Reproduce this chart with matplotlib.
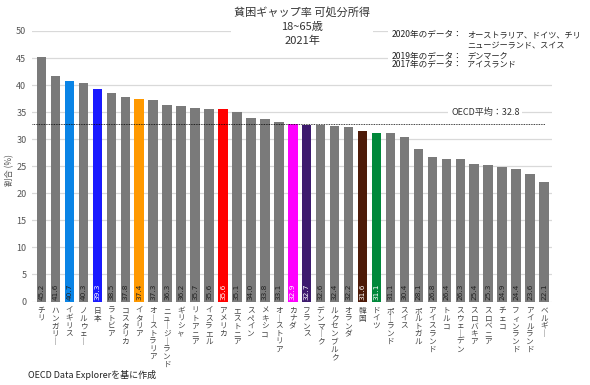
import matplotlib
matplotlib.use("Agg")
import matplotlib.pyplot as plt
from matplotlib.patches import Rectangle

plt.rcParams['font.family'] = ['Noto Sans CJK JP', 'DejaVu Sans']

countries = ["チリ", "ハンガリー", "イギリス", "ノルウェー", "日本", "ラトビア", "コスタリカ",
             "イタリア", "オーストラリア", "ニュージーランド", "ギリシャ", "リトアニア", "イスラエル",
             "アメリカ", "エストニア", "スペイン", "メキシコ", "オーストリア", "カナダ", "フランス",
             "デンマーク", "ルクセンブルク", "オランダ", "韓国", "ドイツ", "ポーランド", "スイス",
             "ポルトガル", "アイスランド", "トルコ", "スウェーデン", "スロバキア", "スロベニア",
             "チェコ", "フィンランド", "アイルランド", "ベルギー"]
values = [45.2, 41.6, 40.7, 40.3, 39.3, 38.5, 37.8, 37.4, 37.3, 36.3, 36.2, 35.7, 35.6,
          35.6, 35.1, 34.0, 33.8, 33.1, 32.9, 32.7, 32.6, 32.4, 32.2, 31.6, 31.1, 31.1, 30.4,
          28.1, 26.8, 26.4, 26.3, 25.4, 25.3, 24.9, 24.4, 23.6, 22.1]
highlight_colors = {"イギリス": "#0a84e6", "日本": "#1a1aff", "イタリア": "#ff9900",
                    "アメリカ": "#ff0000", "カナダ": "#ff00ff", "フランス": "#3d1a6e",
                    "韓国": "#4d1a08", "ドイツ": "#00883a"}
light_label = {"日本", "アメリカ", "カナダ", "フランス", "韓国", "ドイツ"}
oecd_avg = 32.8
yticks = [0, 5, 10, 15, 20, 25, 30, 35, 40, 45, 50]
title = "貧困ギャップ率 可処分所得\n18~65歳\n2021年"
note_left = ["2020年のデータ：", "", "2019年のデータ：", "2017年のデータ："]
note_right = ["オーストラリア、ドイツ、チリ", "ニュージーランド、スイス", "デンマーク", "アイスランド"]
source = "OECD Data Explorerを基に作成"

W, H = 590, 385
fig = plt.figure(figsize=(W / 100, H / 100), dpi=100)
ax = fig.add_axes([32 / W, 1 - 301.5 / H, (552 - 32) / W, (301.5 - 31) / H])

x = list(range(len(countries)))
colors = [highlight_colors.get(c, "#7a7a7a") for c in countries]
ax.bar(x, values, width=0.68, color=colors, zorder=2)

for i, (c, v) in enumerate(zip(countries, values)):
    ax.text(i, 0.35, f"{v:.1f}", rotation=90, ha='center', va='bottom', fontsize=5.3,
            color="white" if c in light_label else "#222222", zorder=3,
            family=['DejaVu Sans'])

ax.set_xlim(-0.68, 36.57)
ax.set_ylim(0, 50)
ax.set_yticks(yticks)
ax.yaxis.grid(True, color="#d9d9d9", linewidth=0.9, zorder=0)
ax.set_axisbelow(True)
for s in ax.spines.values():
    s.set_visible(False)

def vert(s):
    return "\n".join(ch if ch != "ー" else "｜" for ch in s)

ax.set_xticks(x)
ax.set_xticklabels([vert(c) for c in countries], fontsize=5.5, color="#444444",
                   linespacing=0.95, va='top')
ax.tick_params(axis='x', length=0, pad=4)
ax.tick_params(axis='y', length=0, pad=4, labelsize=6.5, labelcolor="#555555")

ax.hlines(oecd_avg, -0.68, 36.07, colors="black", linestyles=(0, (1, 1)), linewidth=0.6, zorder=4)
ax.text(31.8, 35, "OECD平均：32.8", ha='center', va='center', fontsize=6.5, color="#333333",
        bbox=dict(boxstyle="square,pad=0.3", fc="white", ec="none"), zorder=1)
ax.text(31.8, 35, "                              ", ha='center', va='center', fontsize=6.5,
        bbox=dict(boxstyle="square,pad=0.1", fc="white", ec="none"), zorder=0.9)

fig.text(302 / W, 1 - 7 / H, title, ha='center', va='top', fontsize=8, color="#333333",
         linespacing=1.45, bbox=dict(boxstyle="square,pad=0.25", fc="white", ec="none"))

# white backing behind the data-year notes
fig.add_artist(Rectangle((388 / W, 1 - 71 / H), (W - 388) / W, 43 / H,
                         transform=fig.transFigure, fc="white", ec="none", zorder=1))
line_y = [35, 46, 56, 65]
for yy, lt, rt in zip(line_y, note_left, note_right):
    if lt:
        fig.text(392 / W, 1 - yy / H, lt, ha='left', va='center', fontsize=6.2,
                 color="#222222", zorder=3)
    fig.text(467 / W, 1 - yy / H, rt, ha='left', va='center', fontsize=5.9,
             color="#222222", zorder=3)

fig.text(10 / W, 1 - 170 / H, "割合 (%)", rotation=90, ha='center', va='center',
         fontsize=6, color="#555555")
fig.text(28 / W, 1 - 375 / H, source, ha='left', va='center', fontsize=6.5, color="#222222")

fig.savefig("out.png", dpi=100)
